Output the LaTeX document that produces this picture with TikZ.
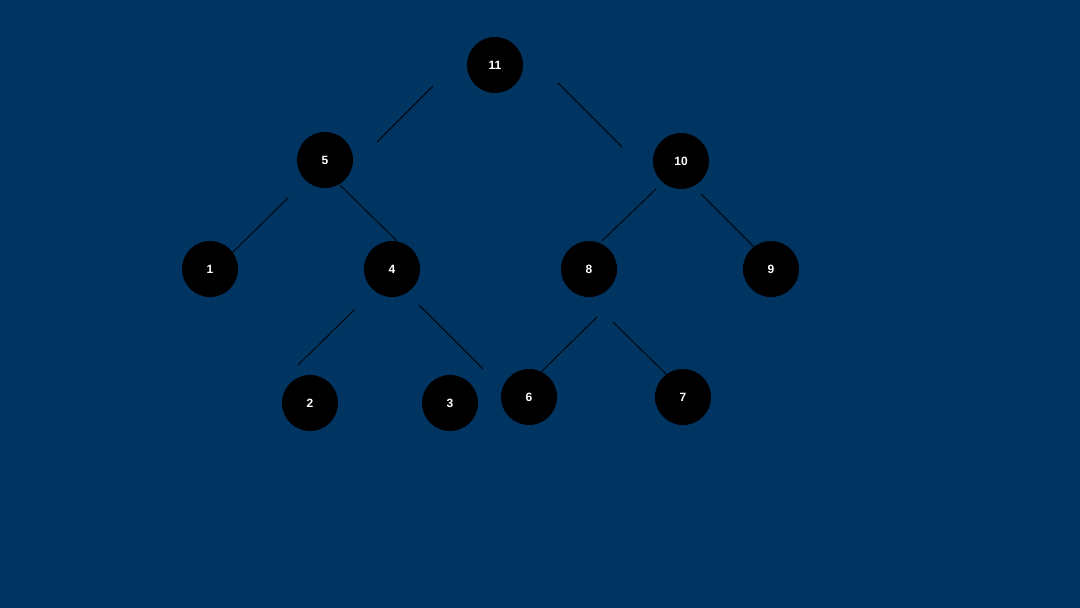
\documentclass[tikz,border=0pt]{standalone}
\usepackage{fontspec}
\setmainfont{Liberation Sans}
\definecolor{bg}{HTML}{003461}
\begin{document}
\begin{tikzpicture}[x=1pt,y=-1pt,
  nd/.style={circle,fill=black,minimum size=56pt,inner sep=0pt,text=white,font=\bfseries\fontsize{12}{14}\selectfont},
  ln/.style={black,line width=0.8pt}]
\fill[bg] (0,0) rectangle (1080,608);
\useasboundingbox (0,0) rectangle (1080,608);
\node[nd] (n11) at (495,65) {11};
\node[nd] (n5) at (325,160) {5};
\node[nd] (n10) at (681,161) {10};
\node[nd] (n1) at (210,269) {1};
\node[nd] (n4) at (392,269) {4};
\node[nd] (n8) at (589,269) {8};
\node[nd] (n9) at (771,269) {9};
\node[nd] (n2) at (310,403) {2};
\node[nd] (n3) at (450,403) {3};
\node[nd] (n6) at (529,397) {6};
\node[nd] (n7) at (683,397) {7};
\foreach \a/\b/\c/\d in {433/86/377/142, 558/83/622/147, 288/198/232/253, 340/185/397/241, 656/189/602/241, 701/194/754/247, 354/310/298/365, 419/305/483/369, 597/317/541/372, 613/322/667/375}
  \draw[ln] (\a,\b) -- (\c,\d);
\end{tikzpicture}
\end{document}
